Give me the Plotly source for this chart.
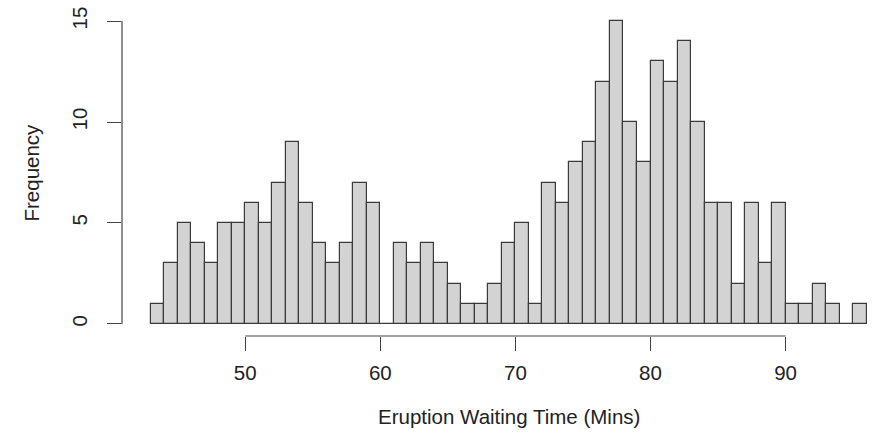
import plotly.graph_objects as go

bin_starts = list(range(43, 96))
counts = [1, 3, 5, 4, 3, 5, 5, 6, 5, 7,
          9, 6, 4, 3, 4, 7, 6, 0, 4, 3,
          4, 3, 2, 1, 1, 2, 4, 5, 1, 7,
          6, 8, 9, 12, 15, 10, 8, 13, 12, 14,
          10, 6, 6, 2, 6, 3, 6, 1, 1, 2,
          1, 0, 1]
x_ticks = [50, 60, 70, 80, 90]
y_ticks = [0, 5, 10, 15]
x_title = "Eruption Waiting Time (Mins)"
y_title = "Frequency"

centers = [b + 0.5 for b in bin_starts]
font = dict(family="Liberation Sans, Arial, sans-serif", size=20.5, color="#222")
axis_col = "#444"

fig = go.Figure(go.Bar(
    x=centers, y=counts, width=1,
    marker=dict(color="#D3D3D3", line=dict(color="#3a3a3a", width=1.2)),
    hoverinfo="x+y"))

fig.update_layout(
    width=884, height=438,
    margin=dict(l=122, r=0, t=9, b=102),
    plot_bgcolor="white", paper_bgcolor="white",
    showlegend=False, bargap=0,
    font=font,
    xaxis=dict(range=[40.88, 40.88 + 762 / 13.51], tickvals=x_ticks,
               ticks="outside", ticklen=14, tickcolor=axis_col, tickwidth=1.2,
               showline=False, showgrid=False, zeroline=False,
               ticklabelstandoff=4, tickfont=font),
    yaxis=dict(range=[-0.6, 15.6], tickvals=y_ticks,
               ticks="outside", ticklen=14, tickcolor=axis_col, tickwidth=1.2,
               showline=False, showgrid=False, zeroline=False,
               tickangle=-90, ticklabelstandoff=12, tickfont=font),
)

fig.add_shape(type="line", xref="x", yref="paper", x0=x_ticks[0], x1=x_ticks[-1],
              y0=0, y1=0, line=dict(color=axis_col, width=1.2))
fig.add_shape(type="line", xref="paper", yref="y", x0=0, x1=0,
              y0=y_ticks[0], y1=y_ticks[-1], line=dict(color=axis_col, width=1.2))

fig.add_annotation(text=x_title, xref="x", yref="paper", x=69.5, y=0,
                   yshift=-80, showarrow=False, yanchor="middle", font=font)
fig.add_annotation(text=y_title, xref="paper", yref="paper", x=0, y=0.5,
                   xshift=-91, showarrow=False, textangle=-90, xanchor="center",
                   font=font)

fig.write_html("out.html")
